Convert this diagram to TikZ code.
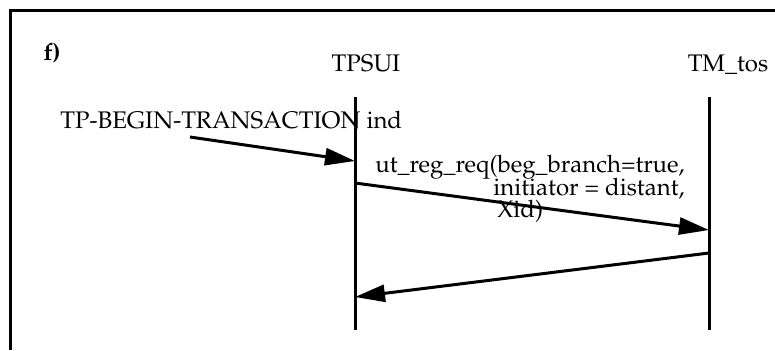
\documentclass[tikz,border=0pt]{standalone}
\usepackage[T1]{fontenc}
\usepackage{mathpazo}
\usepackage{tikz}
\usetikzlibrary{arrows.meta}
\usetikzlibrary{positioning}
\tikzstyle{etiq}=[font=\fontsize{12pt}{14pt}\selectfont,inner sep=0pt]
\tikzstyle{cadre}=[line width=1.5pt]
\tikzstyle{vie}=[line width=1.5pt]
\tikzstyle{message}=[-{Triangle[length=15pt,width=8.5pt]},line width=1.5pt]

\begin{document}
\begin{tikzpicture}[x=0.5pt,y=-0.5pt]
\useasboundingbox (0,0) rectangle (775,350);
\coordinate (cadredroite) at (775,10);
\coordinate (cadrecoin) at (10,10);
\coordinate (cadrebas) at (10,350);
\draw[cadre] (cadredroite) -- (cadrecoin) -- (cadrebas);
\node[etiq,anchor=base west] (f) at (43,60) {\textbf{f)}};
\node[etiq,anchor=base] (tpsui) at (366,71) {TPSUI};
\node[etiq,anchor=base] (tmtos) at (728,71) {TM\_tos};
%Lignesdevie
\coordinate (a1) at (355,97);
\coordinate (a2) at (355,161);
\coordinate (a3) at (355,183);
\coordinate (a4) at (355,297);
\coordinate (a5) at (355,330);
\coordinate (b1) at (709,97);
\coordinate (b2) at (709,230);
\coordinate (b3) at (709,253);
\coordinate (b4) at (709,330);
\draw[vie] (a1) -- (a5);
\draw[vie] (b1) -- (b4);
%Messages
\coordinate (debut) at (190,137);
\node[etiq,anchor=base west] (ind) at (60,128) {TP-BEGIN-TRANSACTION ind};
\node[etiq,anchor=base east] (req) at (685,172) {ut\_reg\_req(beg\_branch=true,};
\node[etiq,anchor=base east] (init) at (685,195) {initiator = distant,};
\node[etiq,anchor=base west] (xid) at (497,217) {Xid)};
\draw[message] (debut) -- (a2);
\draw[message] (a3) -- (b2);
\draw[message] (b3) -- (a4);
\end{tikzpicture}
\end{document}
